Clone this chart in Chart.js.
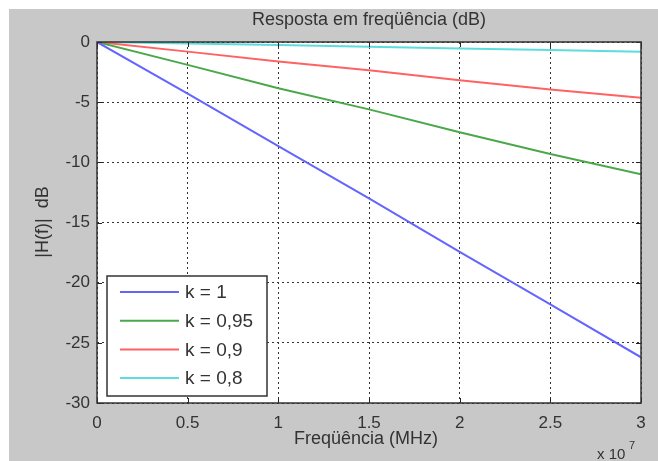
<!DOCTYPE html>
<html>
<head>
<meta charset="utf-8">
<script src="https://cdn.jsdelivr.net/npm/chart.js@4"></script>
<style>
  html, body { margin: 0; padding: 0; background: #fff; }
  #wrap { width: 658px; height: 461px; }
</style>
</head>
<body>
<div id="wrap"><canvas id="freqChart" width="658" height="461"></canvas></div>
<script>
// frequency axis in units of 1e7 Hz
var freq = [0, 0.5, 1, 1.5, 2, 2.5, 3];
var xTicks = [0, 0.5, 1, 1.5, 2, 2.5, 3];
var yTicks = [0, -5, -10, -15, -20, -25, -30];

// |H(f)| in dB
var k100 = [0, -4.3, -8.65, -13.0, -17.45, -21.8, -26.2];
var k095 = [0, -1.9, -3.85, -5.6, -7.5, -9.3, -11.0];
var k090 = [0, -0.8, -1.62, -2.35, -3.17, -3.94, -4.64];
var k080 = [0, -0.12, -0.25, -0.39, -0.53, -0.67, -0.8];

var labels = ['k = 1', 'k = 0,95', 'k = 0,9', 'k = 0,8'];
var colors = ['#6464ff', '#4aa84a', '#ff6262', '#5cdcdc'];
var series = [k100, k095, k090, k080];

function toPoints(ys) {
    return freq.map(function(f, i) { return { x: f, y: ys[i] }; });
}

var FONT = '"Liberation Sans", Arial, sans-serif';

// grey figure background, box, inward ticks, texts and the legend
var matlabLook = {
    id: 'matlabLook',
    beforeDraw: function(chart) {
        var c = chart.ctx, a = chart.chartArea;
        c.save();
        c.fillStyle = '#c8c8c8';
        c.fillRect(9, 9, chart.width - 9, chart.height - 9);
        c.fillStyle = '#ffffff';
        c.fillRect(a.left, a.top, a.right - a.left, a.bottom - a.top);
        c.restore();
    },
    afterDraw: function(chart) {
        var c = chart.ctx, a = chart.chartArea;
        var xs = chart.scales.x, ys = chart.scales.y;
        c.save();
        // inward tick marks
        c.strokeStyle = '#222';
        c.lineWidth = 1;
        c.beginPath();
        xTicks.forEach(function(v) {
            var px = Math.round(xs.getPixelForValue(v)) + 0.5;
            c.moveTo(px, a.bottom); c.lineTo(px, a.bottom - 5);
            c.moveTo(px, a.top); c.lineTo(px, a.top + 5);
        });
        yTicks.forEach(function(v) {
            var py = Math.round(ys.getPixelForValue(v)) + 0.5;
            c.moveTo(a.left, py); c.lineTo(a.left + 5, py);
            c.moveTo(a.right, py); c.lineTo(a.right - 5, py);
        });
        c.stroke();
        // axes box
        c.strokeStyle = '#333';
        c.lineWidth = 1.5;
        c.strokeRect(a.left, a.top, a.right - a.left, a.bottom - a.top);

        // texts
        c.fillStyle = '#333';
        c.textAlign = 'center';
        c.textBaseline = 'middle';
        c.font = '18px ' + FONT;
        c.fillText('Resposta em freqüência (dB)', (a.left + a.right) / 2, 20);
        c.fillText('Freqüência (MHz)', 366, 439);
        c.save();
        c.translate(43, 222);
        c.rotate(-Math.PI / 2);
        c.fillText('|H(f)|  dB', 0, 0);
        c.restore();
        c.textAlign = 'left';
        c.font = '15px ' + FONT;
        c.fillText('x 10', 597, 455);
        c.font = '11px ' + FONT;
        c.fillText('7', 629, 446);

        // legend inside the axes
        var lx = 107, ly = 276, lw = 160, lh = 120;
        c.fillStyle = '#fff';
        c.fillRect(lx, ly, lw, lh);
        c.strokeStyle = '#333';
        c.lineWidth = 1.5;
        c.strokeRect(lx, ly, lw, lh);
        c.font = '19px ' + FONT;
        chart.data.datasets.forEach(function(ds, i) {
            var ry = ly + 16 + i * 28.7;
            c.strokeStyle = ds.borderColor;
            c.lineWidth = 2;
            c.beginPath();
            c.moveTo(lx + 13, ry); c.lineTo(lx + 72, ry);
            c.stroke();
            c.fillStyle = '#333';
            c.fillText(ds.label, lx + 78, ry + 1);
        });
        c.restore();
    }
};

var ctx = document.getElementById('freqChart').getContext('2d');
var freqChart = new Chart(ctx, {
    type: 'line',
    data: {
        datasets: series.map(function(ys, i) {
            return {
                label: labels[i],
                data: toPoints(ys),
                borderColor: colors[i],
                backgroundColor: colors[i],
                borderWidth: 2,
                pointRadius: 0,
                fill: false,
                tension: 0
            };
        })
    },
    options: {
        responsive: false,
        animation: false,
        layout: { padding: { top: 42, right: 17, left: 0, bottom: 0 } },
        plugins: {
            legend: { display: false },
            tooltip: { enabled: false },
            title: { display: false }
        },
        scales: {
            x: {
                type: 'linear',
                min: 0,
                max: 3,
                afterBuildTicks: function(scale) {
                    scale.ticks = xTicks.map(function(v) { return { value: v }; });
                },
                afterFit: function(scale) { scale.height = 461 - 403; },
                ticks: {
                    color: '#333',
                    font: { family: FONT, size: 17 },
                    padding: 10,
                    maxRotation: 0,
                    callback: function(v) { return String(v); }
                },
                grid: { color: '#333', lineWidth: 1, drawTicks: false },
                border: { display: false, dash: [2, 3] }
            },
            y: {
                min: -30,
                max: 0,
                afterBuildTicks: function(scale) {
                    scale.ticks = yTicks.map(function(v) { return { value: v }; });
                },
                afterFit: function(scale) { scale.width = 97; },
                ticks: {
                    color: '#333',
                    font: { family: FONT, size: 17 },
                    padding: 7,
                    callback: function(v) { return String(v); }
                },
                grid: { color: '#333', lineWidth: 1, drawTicks: false },
                border: { display: false, dash: [2, 3] }
            }
        }
    },
    plugins: [matlabLook]
});
</script>
</body>
</html>
